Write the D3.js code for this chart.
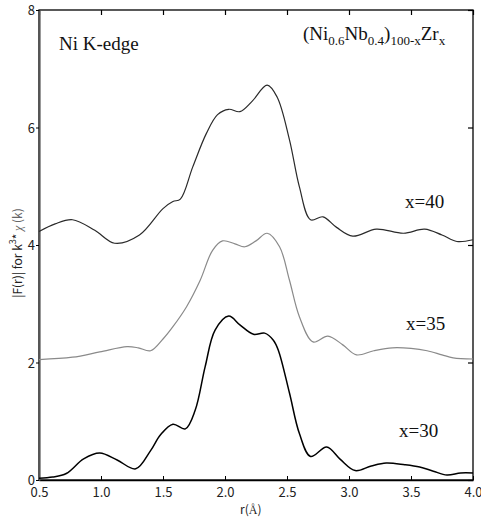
<!DOCTYPE html>
<html>
<head>
<meta charset="utf-8">
<script src="https://cdn.jsdelivr.net/npm/d3@7"></script>
<style>
html, body { margin:0; padding:0; background:#fff; overflow:hidden; }
svg { display:block; }
.tick text { font-family: "Noto Sans CJK JP", "Liberation Sans", Arial, sans-serif; font-size:13px; fill:#222; }
.note { font-family: "Liberation Serif", "Times New Roman", serif; font-size:19px; fill:#111; }
</style>
</head>
<body>
<svg id="chart" width="481" height="519"></svg>
<script>
// r (Angstrom) and |F(r)| values
var r30 = [0.5,0.61,0.72,0.86,0.99,1.13,1.28,1.40,1.48,1.58,1.68,1.76,1.84,1.92,2.03,2.12,2.23,2.32,2.39,2.43,2.52,2.60,2.69,2.82,2.93,3.05,3.18,3.30,3.45,3.57,3.68,3.79,3.90,4.0];
var f30 = [0.03,0.05,0.11,0.36,0.46,0.34,0.19,0.50,0.77,0.95,0.87,1.19,1.93,2.55,2.79,2.64,2.48,2.50,2.38,2.21,1.48,0.79,0.40,0.56,0.35,0.16,0.24,0.29,0.26,0.22,0.15,0.085,0.12,0.12];

var r35 = [0.5,0.77,0.99,1.21,1.30,1.40,1.50,1.58,1.69,1.80,1.90,1.98,2.08,2.16,2.25,2.34,2.44,2.52,2.60,2.71,2.83,2.95,3.06,3.20,3.35,3.50,3.63,3.75,3.84,4.0];
var f35 = [2.05,2.09,2.18,2.27,2.25,2.20,2.40,2.61,2.95,3.40,3.91,4.07,4.02,3.97,4.07,4.20,3.97,3.40,2.78,2.35,2.45,2.30,2.13,2.20,2.25,2.24,2.20,2.13,2.08,2.06];

var r40 = [0.5,0.63,0.77,0.95,1.11,1.31,1.50,1.58,1.64,1.74,1.85,1.94,2.03,2.12,2.22,2.34,2.42,2.52,2.60,2.69,2.79,2.90,3.03,3.22,3.44,3.61,3.75,3.87,4.0];
var f40 = [4.23,4.36,4.43,4.25,4.03,4.17,4.62,4.74,4.78,5.33,5.90,6.22,6.31,6.27,6.45,6.72,6.52,5.79,4.99,4.43,4.48,4.30,4.15,4.27,4.20,4.27,4.17,4.06,4.09];

var xTicks = [0.5,1.0,1.5,2.0,2.5,3.0,3.5,4.0];
var yTicks = [0,2,4,6,8];

var series = [
  {r:r40, f:f40, color:'#2a2a2a', w:1.2},
  {r:r35, f:f35, color:'#8a8a8a', w:1.2},
  {r:r30, f:f30, color:'#000', w:1.5}
];

var svg = d3.select('#chart');
var xs = d3.scaleLinear().domain([0.5, 4.0]).range([39, 473]);
var ys = d3.scaleLinear().domain([0, 8]).range([480, 10]);

// frame box
svg.append('rect').attr('x', xs(0.5)).attr('y', ys(8))
  .attr('width', xs(4) - xs(0.5)).attr('height', ys(0) - ys(8))
  .style('fill', 'none').style('stroke', '#000').style('stroke-width', '1.3px');

// top axis: inward ticks
var ta = svg.append('g').attr('transform','translate(0,'+ys(8)+')')
  .call(d3.axisBottom(xs).tickValues(xTicks).tickSize(5).tickSizeOuter(0).tickFormat(function(){ return ''; }));
ta.select('.domain').remove();
ta.selectAll('.tick line').style('stroke','#000').style('stroke-width','1.2px');

// right axis: inward ticks
var ra = svg.append('g').attr('transform','translate('+xs(4)+',0)')
  .call(d3.axisLeft(ys).tickValues(yTicks).tickSize(5).tickSizeOuter(0).tickFormat(function(){ return ''; }));
ra.select('.domain').remove();
ra.selectAll('.tick line').style('stroke','#000').style('stroke-width','1.2px');

// bottom axis, ticks pointing up
var xa = svg.append('g').attr('transform','translate(0,'+ys(0)+')')
  .call(d3.axisTop(xs).tickValues(xTicks).tickSize(4).tickSizeOuter(0).tickFormat(d3.format('.1f')));
xa.select('.domain').attr('stroke','#000').attr('stroke-width',1.5);
xa.selectAll('.tick text').attr('y',17).attr('dy',0);

// left axis
var ya = svg.append('g').attr('transform','translate('+xs(0.5)+',0)')
  .call(d3.axisLeft(ys).tickValues(yTicks).tickSize(3).tickSizeOuter(0).tickPadding(1).tickFormat(d3.format('d')));
ya.select('.domain').attr('stroke','#555').attr('stroke-width',2.2);
ya.selectAll('.tick text').attr('dy','0.36em');

var line = d3.line().curve(d3.curveCatmullRom.alpha(0.5));
series.forEach(function(s){
  var pts = s.r.map(function(d,i){ return [xs(d), ys(s.f[i])]; });
  svg.append('path').attr('d', line(pts)).attr('fill','none')
    .attr('stroke', s.color).attr('stroke-width', s.w);
});

// annotations
svg.append('text').attr('class','note').attr('x',59).attr('y',50).text('Ni K-edge');
var t = svg.append('text').attr('class','note').attr('x',303).attr('y',40);
t.append('tspan').text('(Ni');
t.append('tspan').attr('dy',5).attr('font-size',13).text('0.6');
t.append('tspan').attr('dy',-5).text('Nb');
t.append('tspan').attr('dy',5).attr('font-size',13).text('0.4');
t.append('tspan').attr('dy',-5).text(')');
t.append('tspan').attr('dy',5).attr('font-size',13).text('100-x');
t.append('tspan').attr('dy',-5).text('Zr');
t.append('tspan').attr('dy',5).attr('font-size',13).text('x');

svg.append('text').attr('class','note').attr('x',405).attr('y',208).text('x=40');
svg.append('text').attr('class','note').attr('x',406).attr('y',330).text('x=35');
svg.append('text').attr('class','note').attr('x',399).attr('y',437).text('x=30');

// axis titles
var xl = svg.append('text').attr('x',240).attr('y',514)
  .attr('font-family','"Noto Sans CJK JP", sans-serif').attr('font-size',12).attr('fill','#222');
xl.append('tspan').text('r(');
xl.append('tspan').attr('font-family','"Liberation Serif", serif').text('Å');
xl.append('tspan').text(')');
var yl = svg.append('text').attr('transform','translate(22,253) rotate(-90)').attr('text-anchor','middle')
  .attr('font-family','"Noto Sans CJK JP", sans-serif').attr('font-size',12).attr('fill','#222');
yl.append('tspan').text('|F(r)| for k');
yl.append('tspan').attr('dy',-6).attr('font-size',9).text('3');
yl.append('tspan').attr('dy',6).text('* ');
yl.append('tspan').attr('font-family','"Liberation Serif", serif').attr('font-style','italic').attr('fill','#666').text('χ');
yl.append('tspan').attr('fill','#666').text(' (k)');
</script>
</body>
</html>
